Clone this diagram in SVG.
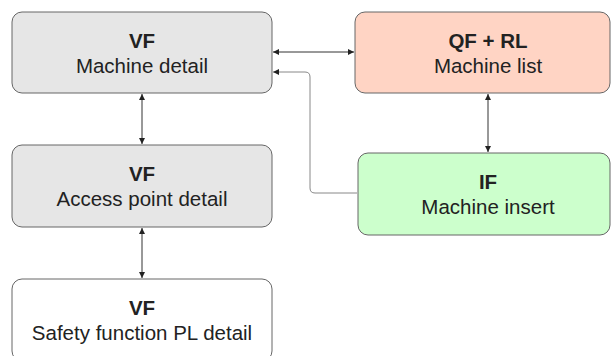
<svg xmlns="http://www.w3.org/2000/svg" width="611" height="356" viewBox="0 0 611 356">
  <style>
    .box { stroke: #666; stroke-width: 1; }
    .grey { fill: #e6e6e6; }
    .peach { fill: #ffd4c4; }
    .green { fill: #ccffcc; }
    .white { fill: #ffffff; }
    .t { font-family: "Liberation Sans", Arial, sans-serif; font-size: 20.5px; fill: #222; text-anchor: middle; }
    .b { font-weight: bold; }
    .link { fill: none; stroke: #333; stroke-width: 1; }
    .soft { fill: none; stroke: #888; stroke-width: 1; }
  </style>
  <defs>
    <marker id="ah" viewBox="0 0 8 8" refX="8" refY="4" markerWidth="6" markerHeight="6" markerUnits="userSpaceOnUse" orient="auto-start-reverse">
      <path d="M0,0 L8,4 L0,8 Z" fill="#222"/>
    </marker>
  </defs>
  <rect width="611" height="356" fill="#ffffff"/>

  <g id="connectors">
    <path class="link" d="M273,52 H354" marker-start="url(#ah)" marker-end="url(#ah)"/>
    <path class="soft" d="M357,193 H315 Q310,193 310,188 V77 Q310,72 305,72 H273" marker-end="url(#ah)"/>
    <path class="link" d="M142,94 V144" marker-start="url(#ah)" marker-end="url(#ah)"/>
    <path class="link" d="M142,228 V278" marker-start="url(#ah)" marker-end="url(#ah)"/>
    <path class="link" d="M488,94 V152" marker-start="url(#ah)" marker-end="url(#ah)"/>
  </g>

  <g id="machine-detail">
    <rect class="box grey" x="12" y="12" width="260" height="81" rx="10"/>
    <text class="t b" x="142" y="48">VF</text>
    <text class="t" x="142" y="73">Machine detail</text>
  </g>

  <g id="machine-list">
    <rect class="box peach" x="355" y="12" width="255" height="81" rx="10"/>
    <text class="t b" x="488" y="48">QF + RL</text>
    <text class="t" x="488" y="73">Machine list</text>
  </g>

  <g id="access-point-detail">
    <rect class="box grey" x="12" y="145" width="260" height="82" rx="10"/>
    <text class="t b" x="142" y="181">VF</text>
    <text class="t" x="142" y="206">Access point detail</text>
  </g>

  <g id="machine-insert">
    <rect class="box green" x="358" y="153" width="252" height="82" rx="10"/>
    <text class="t b" x="488" y="189">IF</text>
    <text class="t" x="488" y="214">Machine insert</text>
  </g>

  <g id="safety-function-detail">
    <rect class="box white" x="12" y="279" width="260" height="82" rx="10"/>
    <text class="t b" x="142" y="315">VF</text>
    <text class="t" x="142" y="340">Safety function PL detail</text>
  </g>
</svg>
